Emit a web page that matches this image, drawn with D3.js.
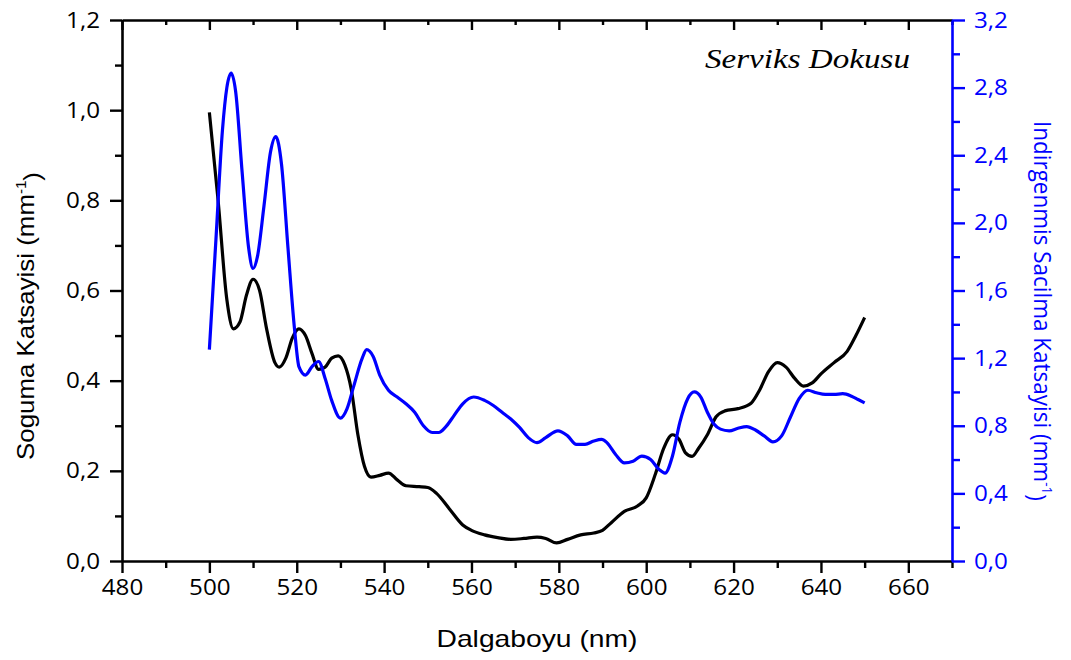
<!DOCTYPE html>
<html>
<head>
<meta charset="utf-8">
<script src="https://cdn.jsdelivr.net/npm/d3@7"></script>
<style>
  html, body { margin: 0; padding: 0; background: #fff; }
  svg { display: block; }
</style>
</head>
<body>
<svg id="chart" width="1071" height="660"></svg>
<script>
// Absorption coefficient (left axis, mm^-1)
const absWavelength = [500, 502, 504, 505.5, 507, 508.5, 510, 511.5, 513, 515, 516, 517.5, 519, 520.5, 522, 523.5,
  525, 526.5, 528, 529.5, 531, 532.5, 534, 535.5, 537, 539, 541, 543, 545, 548, 550, 552, 555, 558, 560, 563,
  566, 569, 572, 575, 577, 579.5, 582, 585, 588, 590, 592, 595, 598, 600, 602, 604, 606, 607.5, 609, 610.5,
  612, 614, 616, 618, 621, 624, 626, 628, 630, 632, 634, 636, 638, 640, 643, 646, 648, 650];
const absorption = [0.995, 0.80, 0.58, 0.515, 0.53, 0.59, 0.625, 0.60, 0.52, 0.44, 0.43, 0.45, 0.495, 0.515, 0.50, 0.46,
  0.425, 0.43, 0.45, 0.455, 0.435, 0.38, 0.28, 0.21, 0.186, 0.19, 0.195, 0.18, 0.167, 0.165, 0.163, 0.15, 0.115, 0.08, 0.068, 0.058,
  0.052, 0.048, 0.05, 0.053, 0.05, 0.04, 0.048, 0.058, 0.062, 0.068, 0.085, 0.11, 0.122, 0.14, 0.19, 0.25, 0.28, 0.27, 0.24, 0.232,
  0.25, 0.28, 0.32, 0.333, 0.338, 0.35, 0.38, 0.42, 0.44, 0.43, 0.405, 0.388, 0.395, 0.415, 0.44, 0.465, 0.50, 0.54];

// Reduced scattering coefficient (right axis, mm^-1)
const scatWavelength = [500, 501.5, 503, 504, 505, 506, 507.5, 509, 510, 511, 512.5, 514, 515.2, 516.5, 518, 519.5,
  520.5, 522, 523.5, 525, 526.5, 528, 530, 531.5, 533, 535, 536, 537.5, 539, 541, 543, 545, 547, 549, 551, 552.5,
  554, 556, 558, 560.5, 563, 565, 567, 569, 571, 573, 575, 577, 579.8, 582, 584, 586, 588, 589.8, 591, 593, 595,
  597, 599, 601, 603, 604.3, 606, 607.7, 609.5, 611, 612.5, 614, 615.5, 617, 619, 621, 623, 625, 627, 629, 631,
  633, 635, 637, 639, 641, 643, 645, 647, 648.5, 650];
const scattering = [1.25, 1.9, 2.55, 2.8, 2.886, 2.78, 2.3, 1.85, 1.73, 1.8, 2.1, 2.42, 2.51, 2.35, 1.85, 1.37,
  1.15, 1.10, 1.15, 1.18, 1.08, 0.95, 0.845, 0.9, 1.03, 1.2, 1.25, 1.21, 1.1, 1.01, 0.97, 0.93, 0.88, 0.8, 0.76, 0.76,
  0.79, 0.86, 0.93, 0.97, 0.95, 0.92, 0.88, 0.84, 0.79, 0.73, 0.70, 0.73, 0.77, 0.74, 0.69, 0.69, 0.71, 0.72, 0.70, 0.63, 0.58,
  0.59, 0.62, 0.60, 0.54, 0.52, 0.62, 0.82, 0.96, 1.0, 0.97, 0.88, 0.81, 0.78, 0.77, 0.785, 0.795, 0.775, 0.74, 0.705, 0.74,
  0.85, 0.96, 1.01, 0.995, 0.985, 0.985, 0.99, 0.975, 0.955, 0.935];

// Tick values
const xTicks = [480, 500, 520, 540, 560, 580, 600, 620, 640, 660];
const xMinorTicks = [490, 510, 530, 550, 570, 590, 610, 630, 650, 670];
const leftTicks = [0, 0.2, 0.4, 0.6, 0.8, 1.0, 1.2];
const leftMinorTicks = [0.1, 0.3, 0.5, 0.7, 0.9, 1.1];
const rightTicks = [0, 0.4, 0.8, 1.2, 1.6, 2.0, 2.4, 2.8, 3.2];
const rightMinorTicks = [0.2, 0.6, 1.0, 1.4, 1.8, 2.2, 2.6, 3.0];

const BLUE = "#0000ff";
const svg = d3.select("#chart");
const plot = { left: 122, right: 952, top: 20, bottom: 561 };

const x = d3.scaleLinear().domain([480, 670]).range([plot.left, plot.right]);
const yL = d3.scaleLinear().domain([0, 1.2]).range([plot.bottom, plot.top]);
const yR = d3.scaleLinear().domain([0, 3.2]).range([plot.bottom, plot.top]);

const fmt = d => d3.format(".1f")(d).replace(".", ",");
const tickFont = "'Open Sans', 'Noto Sans', sans-serif";
const titleFont = "'Liberation Sans', Arial, sans-serif";

function styleAxis(g, color) {
  g.select(".domain").attr("stroke", color).attr("stroke-width", 2.6);
  g.selectAll(".tick line").attr("stroke", color).attr("stroke-width", 2.4);
  g.selectAll(".tick text").attr("fill", color)
    .style("font-family", tickFont).style("font-size", "22px");
}

// Bottom axis
const gx = svg.append("g").attr("transform", `translate(0,${plot.bottom})`)
  .call(d3.axisBottom(x).tickValues(xTicks).tickSize(12).tickSizeOuter(0).tickPadding(6).tickFormat(d3.format("d")));
styleAxis(gx, "#000");
gx.selectAll(".tick text").classed("stretch", true);
const gxm = svg.append("g").attr("transform", `translate(0,${plot.bottom})`)
  .call(d3.axisBottom(x).tickValues(xMinorTicks).tickSize(7).tickSizeOuter(0).tickFormat(""));
styleAxis(gxm, "#000");
gxm.select(".domain").remove();

// Top axis, ticks pointing inward
const gt = svg.append("g").attr("transform", `translate(0,${plot.top})`)
  .call(d3.axisTop(x).tickValues(xTicks).tickSize(-10).tickSizeOuter(0).tickFormat(""));
styleAxis(gt, "#000");
const gtm = svg.append("g").attr("transform", `translate(0,${plot.top})`)
  .call(d3.axisTop(x).tickValues(xMinorTicks).tickSize(-5).tickSizeOuter(0).tickFormat(""));
styleAxis(gtm, "#000");
gtm.select(".domain").remove();

// Left axis
const gl = svg.append("g").attr("transform", `translate(${plot.left},0)`)
  .call(d3.axisLeft(yL).tickValues(leftTicks).tickSize(12).tickSizeOuter(0).tickPadding(10).tickFormat(fmt));
styleAxis(gl, "#000");
gl.selectAll(".tick text").classed("stretch", true);
const glm = svg.append("g").attr("transform", `translate(${plot.left},0)`)
  .call(d3.axisLeft(yL).tickValues(leftMinorTicks).tickSize(7).tickSizeOuter(0).tickFormat(""));
styleAxis(glm, "#000");
glm.select(".domain").remove();

// Right axis
const gr = svg.append("g").attr("transform", `translate(${plot.right},0)`)
  .call(d3.axisRight(yR).tickValues(rightTicks).tickSize(13).tickSizeOuter(0).tickPadding(9).tickFormat(fmt));
styleAxis(gr, BLUE);
gr.selectAll(".tick text").classed("stretch", true);
const grm = svg.append("g").attr("transform", `translate(${plot.right},0)`)
  .call(d3.axisRight(yR).tickValues(rightMinorTicks).tickSize(8).tickSizeOuter(0).tickFormat(""));
styleAxis(grm, BLUE);
grm.select(".domain").remove();

// Curves
const absLine = d3.line().x((d, i) => x(absWavelength[i])).y(d => yL(d)).curve(d3.curveMonotoneX);
const scatLine = d3.line().x((d, i) => x(scatWavelength[i])).y(d => yR(d)).curve(d3.curveMonotoneX);

svg.append("path").datum(absorption).attr("d", absLine)
  .attr("fill", "none").attr("stroke", "#000").attr("stroke-width", 3.2).attr("stroke-linejoin", "round");
svg.append("path").datum(scattering).attr("d", scatLine)
  .attr("fill", "none").attr("stroke", BLUE).attr("stroke-width", 3.2).attr("stroke-linejoin", "round");

// Axis titles
function titleWithUnit(g, main, color, font, size) {
  const t = g.append("text").attr("text-anchor", "middle").attr("fill", color)
    .style("font-family", font).style("font-size", size + "px");
  t.append("tspan").text(main + " (mm");
  t.append("tspan").attr("dy", "-0.55em").style("font-size", "14px").text("-1");
  t.append("tspan").attr("dy", "0.55em").text(")");
  return t;
}

const leftTitle = titleWithUnit(svg.append("g").attr("transform", "translate(34,316) rotate(-90)"),
  "Soguma Katsayisi", "#000", titleFont, 24);
leftTitle.attr("textLength", 288).attr("lengthAdjust", "spacingAndGlyphs");

const rightTitle = titleWithUnit(svg.append("g").attr("transform", "translate(1034,311) rotate(90)"),
  "Indirgenmis Sacilma Katsayisi", BLUE, tickFont, 23);
rightTitle.attr("textLength", 380).attr("lengthAdjust", "spacingAndGlyphs");

svg.append("text").attr("x", 537).attr("y", 647).attr("text-anchor", "middle")
  .style("font-family", titleFont).style("font-size", "24px")
  .attr("textLength", 201).attr("lengthAdjust", "spacingAndGlyphs")
  .text("Dalgaboyu (nm)");

svg.append("text").attr("x", 705).attr("y", 68)
  .style("font-family", "'Liberation Serif', 'Times New Roman', serif")
  .style("font-style", "italic").style("font-size", "27px")
  .attr("textLength", 205).attr("lengthAdjust", "spacingAndGlyphs")
  .text("Serviks Dokusu");

// Tick labels are drawn slightly wide
svg.selectAll("text.stretch").each(function () {
  const w = this.getComputedTextLength();
  d3.select(this).attr("textLength", w * 1.1).attr("lengthAdjust", "spacingAndGlyphs");
});
</script>
</body>
</html>
